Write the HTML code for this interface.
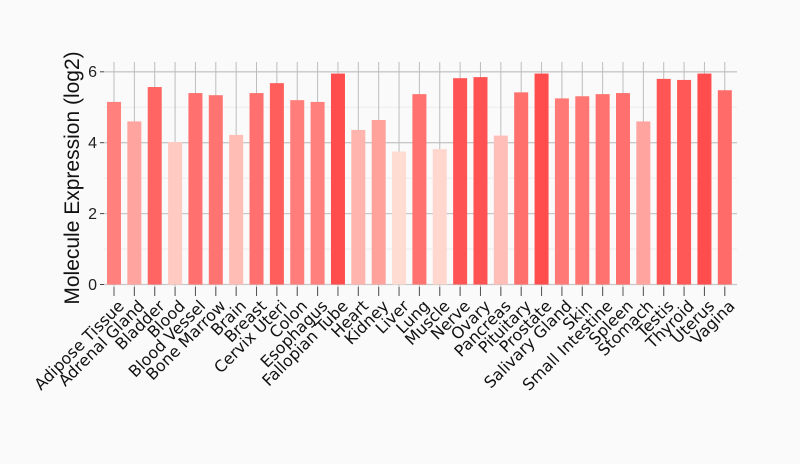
<!DOCTYPE html>
<html><head><meta charset="utf-8"><style>
html,body{margin:0;padding:0;background:#fafafa;}
svg{display:block;}
text{font-family:"Liberation Sans",Arial,sans-serif;}
.xl text{font-family:"DejaVu Sans","Liberation Sans",sans-serif;}
</style></head><body>
<svg width="800" height="464" viewBox="0 0 800 464" xmlns="http://www.w3.org/2000/svg">
<rect width="800" height="464" fill="#fafafa"/>
<g stroke="#ececec" stroke-width="1">
<line x1="104" x2="737" y1="249" y2="249"/><line x1="104" x2="737" y1="178.1" y2="178.1"/><line x1="104" x2="737" y1="107.2" y2="107.2"/>
</g>
<g stroke="#c8c8c8" stroke-width="1.3">
<line x1="104" x2="737" y1="284.5" y2="284.5"/><line x1="104" x2="737" y1="213.6" y2="213.6"/><line x1="104" x2="737" y1="142.7" y2="142.7"/><line x1="104" x2="737" y1="71.8" y2="71.8"/>
</g>
<g transform="translate(114,62)" stroke="#bdbdbd" stroke-width="1">
<line x1="0" x2="0" y1="0" y2="234"/><line x1="20.36" x2="20.36" y1="0" y2="234"/><line x1="40.72" x2="40.72" y1="0" y2="234"/><line x1="61.08" x2="61.08" y1="0" y2="234"/><line x1="81.44" x2="81.44" y1="0" y2="234"/><line x1="101.8" x2="101.8" y1="0" y2="234"/><line x1="122.16" x2="122.16" y1="0" y2="234"/><line x1="142.52" x2="142.52" y1="0" y2="234"/><line x1="162.88" x2="162.88" y1="0" y2="234"/><line x1="183.24" x2="183.24" y1="0" y2="234"/><line x1="203.6" x2="203.6" y1="0" y2="234"/><line x1="223.96" x2="223.96" y1="0" y2="234"/><line x1="244.32" x2="244.32" y1="0" y2="234"/><line x1="264.68" x2="264.68" y1="0" y2="234"/><line x1="285.04" x2="285.04" y1="0" y2="234"/><line x1="305.4" x2="305.4" y1="0" y2="234"/><line x1="325.76" x2="325.76" y1="0" y2="234"/><line x1="346.12" x2="346.12" y1="0" y2="234"/><line x1="366.48" x2="366.48" y1="0" y2="234"/><line x1="386.84" x2="386.84" y1="0" y2="234"/><line x1="407.2" x2="407.2" y1="0" y2="234"/><line x1="427.56" x2="427.56" y1="0" y2="234"/><line x1="447.92" x2="447.92" y1="0" y2="234"/><line x1="468.28" x2="468.28" y1="0" y2="234"/><line x1="488.64" x2="488.64" y1="0" y2="234"/><line x1="509" x2="509" y1="0" y2="234"/><line x1="529.36" x2="529.36" y1="0" y2="234"/><line x1="549.72" x2="549.72" y1="0" y2="234"/><line x1="570.08" x2="570.08" y1="0" y2="234"/><line x1="590.44" x2="590.44" y1="0" y2="234"/><line x1="610.8" x2="610.8" y1="0" y2="234"/>
</g>
<g transform="translate(114,284.5) scale(1,-35.45)">
<rect x="-7" y="0" width="14" height="5.15" fill="rgb(255,128,125)"/>
<rect x="13.36" y="0" width="14" height="4.6" fill="rgb(255,164,158)"/>
<rect x="33.72" y="0" width="14" height="5.57" fill="rgb(255,101,99)"/>
<rect x="54.08" y="0" width="14" height="4.02" fill="rgb(255,202,194)"/>
<rect x="74.44" y="0" width="14" height="5.4" fill="rgb(255,112,110)"/>
<rect x="94.8" y="0" width="14" height="5.34" fill="rgb(255,116,113)"/>
<rect x="115.16" y="0" width="14" height="4.22" fill="rgb(255,189,181)"/>
<rect x="135.52" y="0" width="14" height="5.4" fill="rgb(255,112,110)"/>
<rect x="155.88" y="0" width="14" height="5.68" fill="rgb(255,94,92)"/>
<rect x="176.24" y="0" width="14" height="5.2" fill="rgb(255,125,122)"/>
<rect x="196.6" y="0" width="14" height="5.15" fill="rgb(255,128,125)"/>
<rect x="216.96" y="0" width="14" height="5.95" fill="rgb(255,76,76)"/>
<rect x="237.32" y="0" width="14" height="4.36" fill="rgb(255,180,173)"/>
<rect x="257.68" y="0" width="14" height="4.64" fill="rgb(255,162,156)"/>
<rect x="278.04" y="0" width="14" height="3.75" fill="rgb(255,220,210)"/>
<rect x="298.4" y="0" width="14" height="5.37" fill="rgb(255,114,111)"/>
<rect x="318.76" y="0" width="14" height="3.82" fill="rgb(255,215,206)"/>
<rect x="339.12" y="0" width="14" height="5.82" fill="rgb(255,84,84)"/>
<rect x="359.48" y="0" width="14" height="5.85" fill="rgb(255,82,82)"/>
<rect x="379.84" y="0" width="14" height="4.2" fill="rgb(255,190,183)"/>
<rect x="400.2" y="0" width="14" height="5.42" fill="rgb(255,111,108)"/>
<rect x="420.56" y="0" width="14" height="5.95" fill="rgb(255,76,76)"/>
<rect x="440.92" y="0" width="14" height="5.25" fill="rgb(255,122,119)"/>
<rect x="461.28" y="0" width="14" height="5.31" fill="rgb(255,118,115)"/>
<rect x="481.64" y="0" width="14" height="5.37" fill="rgb(255,114,111)"/>
<rect x="502" y="0" width="14" height="5.4" fill="rgb(255,112,110)"/>
<rect x="522.36" y="0" width="14" height="4.6" fill="rgb(255,164,158)"/>
<rect x="542.72" y="0" width="14" height="5.8" fill="rgb(255,86,85)"/>
<rect x="563.08" y="0" width="14" height="5.77" fill="rgb(255,88,87)"/>
<rect x="583.44" y="0" width="14" height="5.95" fill="rgb(255,76,76)"/>
<rect x="603.8" y="0" width="14" height="5.48" fill="rgb(255,107,105)"/>
</g>
<g stroke="#444" stroke-width="1">
<line x1="100" x2="104" y1="284.5" y2="284.5"/><line x1="100" x2="104" y1="213.6" y2="213.6"/><line x1="100" x2="104" y1="142.7" y2="142.7"/><line x1="100" x2="104" y1="71.8" y2="71.8"/>
</g>
<g transform="translate(114,0)" stroke="#555" stroke-width="1">
<line x1="0" x2="0" y1="287" y2="296"/><line x1="20.36" x2="20.36" y1="287" y2="296"/><line x1="40.72" x2="40.72" y1="287" y2="296"/><line x1="61.08" x2="61.08" y1="287" y2="296"/><line x1="81.44" x2="81.44" y1="287" y2="296"/><line x1="101.8" x2="101.8" y1="287" y2="296"/><line x1="122.16" x2="122.16" y1="287" y2="296"/><line x1="142.52" x2="142.52" y1="287" y2="296"/><line x1="162.88" x2="162.88" y1="287" y2="296"/><line x1="183.24" x2="183.24" y1="287" y2="296"/><line x1="203.6" x2="203.6" y1="287" y2="296"/><line x1="223.96" x2="223.96" y1="287" y2="296"/><line x1="244.32" x2="244.32" y1="287" y2="296"/><line x1="264.68" x2="264.68" y1="287" y2="296"/><line x1="285.04" x2="285.04" y1="287" y2="296"/><line x1="305.4" x2="305.4" y1="287" y2="296"/><line x1="325.76" x2="325.76" y1="287" y2="296"/><line x1="346.12" x2="346.12" y1="287" y2="296"/><line x1="366.48" x2="366.48" y1="287" y2="296"/><line x1="386.84" x2="386.84" y1="287" y2="296"/><line x1="407.2" x2="407.2" y1="287" y2="296"/><line x1="427.56" x2="427.56" y1="287" y2="296"/><line x1="447.92" x2="447.92" y1="287" y2="296"/><line x1="468.28" x2="468.28" y1="287" y2="296"/><line x1="488.64" x2="488.64" y1="287" y2="296"/><line x1="509" x2="509" y1="287" y2="296"/><line x1="529.36" x2="529.36" y1="287" y2="296"/><line x1="549.72" x2="549.72" y1="287" y2="296"/><line x1="570.08" x2="570.08" y1="287" y2="296"/><line x1="590.44" x2="590.44" y1="287" y2="296"/><line x1="610.8" x2="610.8" y1="287" y2="296"/>
</g>
<g font-size="16" fill="#222" text-anchor="end">
<text x="97" y="290">0</text><text x="97" y="219">2</text><text x="97" y="148">4</text><text x="97" y="77">6</text>
</g>
<text transform="translate(79,178) rotate(-90)" font-size="21" text-anchor="middle" fill="#111">Molecule Expression (log2)</text>
<g class="xl" font-size="16" fill="#111" text-anchor="end">
<text transform="translate(125,307) rotate(-45)">Adipose Tissue</text>
<text transform="translate(145.36,307) rotate(-45)">Adrenal Gland</text>
<text transform="translate(165.72,307) rotate(-45)">Bladder</text>
<text transform="translate(186.08,307) rotate(-45)">Blood</text>
<text transform="translate(206.44,307) rotate(-45)">Blood Vessel</text>
<text transform="translate(226.8,307) rotate(-45)">Bone Marrow</text>
<text transform="translate(247.16,307) rotate(-45)">Brain</text>
<text transform="translate(267.52,307) rotate(-45)">Breast</text>
<text transform="translate(287.88,307) rotate(-45)">Cervix Uteri</text>
<text transform="translate(308.24,307) rotate(-45)">Colon</text>
<text transform="translate(328.6,307) rotate(-45)">Esophagus</text>
<text transform="translate(348.96,307) rotate(-45)">Fallopian Tube</text>
<text transform="translate(369.32,307) rotate(-45)">Heart</text>
<text transform="translate(389.68,307) rotate(-45)">Kidney</text>
<text transform="translate(410.04,307) rotate(-45)">Liver</text>
<text transform="translate(430.4,307) rotate(-45)">Lung</text>
<text transform="translate(450.76,307) rotate(-45)">Muscle</text>
<text transform="translate(471.12,307) rotate(-45)">Nerve</text>
<text transform="translate(491.48,307) rotate(-45)">Ovary</text>
<text transform="translate(511.84,307) rotate(-45)">Pancreas</text>
<text transform="translate(532.2,307) rotate(-45)">Pituitary</text>
<text transform="translate(552.56,307) rotate(-45)">Prostate</text>
<text transform="translate(572.92,307) rotate(-45)">Salivary Gland</text>
<text transform="translate(593.28,307) rotate(-45)">Skin</text>
<text transform="translate(613.64,307) rotate(-45)">Small Intestine</text>
<text transform="translate(634,307) rotate(-45)">Spleen</text>
<text transform="translate(654.36,307) rotate(-45)">Stomach</text>
<text transform="translate(674.72,307) rotate(-45)">Testis</text>
<text transform="translate(695.08,307) rotate(-45)">Thyroid</text>
<text transform="translate(715.44,307) rotate(-45)">Uterus</text>
<text transform="translate(735.8,307) rotate(-45)">Vagina</text>
</g>
</svg>
</body></html>
